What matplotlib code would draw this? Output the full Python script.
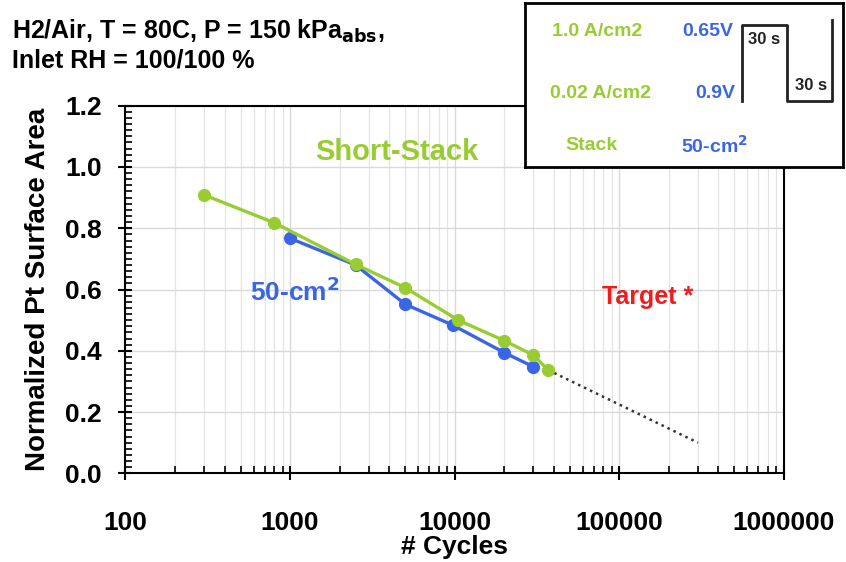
"""Pt surface area loss vs. cycles, short-stack vs 50-cm2."""
import matplotlib
matplotlib.use("Agg")
import matplotlib.pyplot as plt
from matplotlib.ticker import FixedLocator, MultipleLocator, NullFormatter

plt.rcParams['font.family'] = ['Liberation Sans', 'DejaVu Sans']
plt.rcParams['font.weight'] = 'bold'

GREEN = '#99cc33'
BLUE = '#3a66e6'
RED = '#ee1c1c'

# Short-stack data
stack_cycles = [300, 800, 2500, 5000, 10500, 20000, 30000, 37000]
stack_area = [0.909, 0.818, 0.682, 0.606, 0.500, 0.433, 0.386, 0.337]

# 50-cm2 cell data
cell_cycles = [1000, 2500, 5000, 9700, 20000, 30000]
cell_area = [0.767, 0.680, 0.552, 0.484, 0.394, 0.348]

# extrapolation
extrap_cycles = [37000, 300000]
extrap_area = [0.337, 0.10]

x_ticks = [100, 1000, 10000, 100000, 1000000]
x_labels = ['100', '1000', '10000', '100000', '1000000']

# square-wave schematic of the load cycle (inset)
wave_x = [217, 217, 262, 262, 307, 307]
wave_y = [98, 22, 22, 98, 98, 17]

fig = plt.figure(figsize=(8.46, 5.62), dpi=100)
ax = fig.add_axes([0.1483, 0.1578, 0.7784, 0.6541])

ax.plot(stack_cycles, stack_area, '-o', color=GREEN, lw=2.4, ms=8.5, zorder=3)
ax.plot(cell_cycles, cell_area, '-o', color=BLUE, lw=2.4, ms=8.5, zorder=2)
ax.plot(extrap_cycles, extrap_area, ':', color='#333333', lw=1.8, zorder=1)

ax.set_xscale('log')
ax.set_xlim(100, 1000000)
ax.set_ylim(0, 1.2)
ax.xaxis.set_major_locator(FixedLocator(x_ticks))
ax.set_xticklabels(x_labels)
ax.xaxis.set_minor_formatter(NullFormatter())
ax.yaxis.set_major_locator(MultipleLocator(0.2))
ax.yaxis.set_minor_locator(MultipleLocator(0.02))
ax.yaxis.set_major_formatter(lambda v, p: f'{v:.1f}')

ax.grid(True, which='major', color='#d9d9d9', lw=1.0)
ax.grid(True, which='minor', axis='x', color='#e4e4e4', lw=0.9)
ax.set_axisbelow(True)

for s in ax.spines.values():
    s.set_linewidth(1.5)
ax.tick_params(which='major', direction='inout', length=10, width=1.5,
               labelsize=19)
ax.tick_params(which='minor', direction='in', length=5, width=1.2)
ax.tick_params(axis='x', which='major', pad=22)
ax.tick_params(axis='y', which='major', pad=12)

ax.set_xlabel('# Cycles', fontsize=19, fontweight='bold', labelpad=0)
ax.set_ylabel('Normalized Pt Surface Area', fontsize=20, fontweight='bold',
              labelpad=10)

ax.text(0.412, 0.874, 'Short-Stack', transform=ax.transAxes, color=GREEN,
        fontsize=21, ha='center', va='center')
ax.text(0.257, 0.494, '50-cm$^2$', transform=ax.transAxes, color=BLUE,
        fontsize=19, ha='center', va='center')
ax.text(0.793, 0.48, 'Target *', transform=ax.transAxes, color=RED,
        fontsize=18, ha='center', va='center')

fig.text(0.014, 0.945, 'H2/Air, T = 80C, P = 150 kPa$_{\\mathbf{abs}}$,',
         fontsize=18, ha='left', va='center')
fig.text(0.014, 0.893, 'Inlet RH = 100/100 %', fontsize=18, ha='left',
         va='center')

# inset describing the cycle
ins = fig.add_axes([525 / 846, 1 - 167 / 562, 318 / 846, 164 / 562], zorder=5)
ins.set_xlim(0, 318)
ins.set_ylim(164, 0)
ins.set_xticks([])
ins.set_yticks([])
for s in ins.spines.values():
    s.set_linewidth(2)
ins.plot(wave_x, wave_y, color='#222222', lw=2)
ins.text(72, 28, '1.0 A/cm2', color=GREEN, fontsize=14, ha='center', va='center')
ins.text(183, 28, '0.65V', color=BLUE, fontsize=14, ha='center', va='center')
ins.text(75, 90, '0.02 A/cm2', color=GREEN, fontsize=14, ha='center', va='center')
ins.text(190, 90, '0.9V', color=BLUE, fontsize=14, ha='center', va='center')
ins.text(66, 143, 'Stack', color=GREEN, fontsize=14, ha='center', va='center')
ins.text(189, 143, '50-cm$^2$', color=BLUE, fontsize=14, ha='center', va='center')
ins.text(239, 36, '30 s', color='#222222', fontsize=12, ha='center', va='center')
ins.text(286, 82, '30 s', color='#222222', fontsize=12, ha='center', va='center')

fig.savefig('out.png', dpi=100)
